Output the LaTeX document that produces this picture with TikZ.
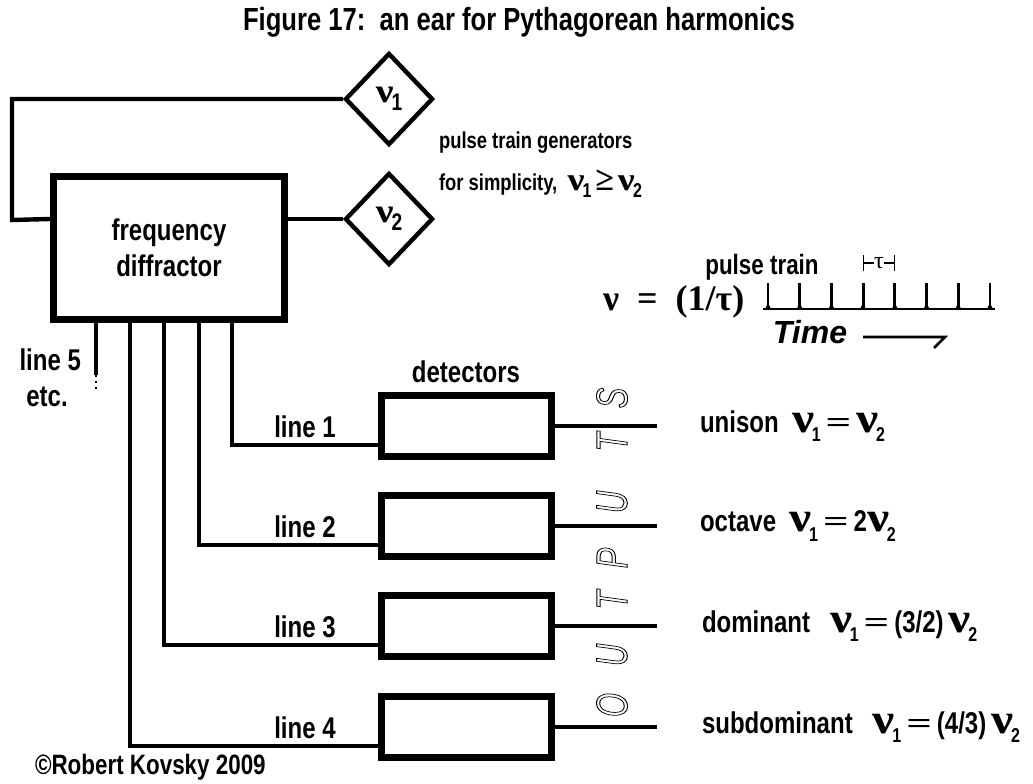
\documentclass[tikz,border=0pt]{standalone}
\usepackage{graphicx}
\usepackage{fontspec}
\setmainfont{Liberation Sans}
\newfontfamily\labelfont[FakeStretch=0.8]{Liberation Sans}
\newfontfamily\nufont{Liberation Serif}
\usetikzlibrary{shapes.geometric, calc, arrows.meta}

% frequency symbols
\newcommand{\nusym}{\scalebox{1.65}[1.4]{\nufont\bfseries ν}}
\newcommand{\nusub}[1]{\nusym\kern-0.08em\raisebox{-0.6ex}{\labelfont\bfseries\fontsize{10}{10}\selectfont #1}}
\newcommand{\eqsign}{\,\scalebox{1.5}[1]{\nufont\bfseries =}\,}
% hollow letters
\newcommand{\hollow}[1]{\special{pdf:literal direct 1 Tr 0.5 w}#1\special{pdf:literal direct 0 Tr}}

\begin{document}
\begin{tikzpicture}[x=0.5pt, y=-0.5pt,
    wire/.style={line width=2.2pt},
    thickbox/.style={draw, rectangle, line width=3.5pt, inner sep=0pt},
    detbox/.style={thickbox, minimum width=85pt, minimum height=30.5pt},
    gen/.style={draw, diamond, aspect=1, line width=2.2pt, inner sep=0pt,
        minimum width=44pt, minimum height=46pt},
    lbl/.style={font=\labelfont\bfseries\fontsize{15}{18}\selectfont},
    smalllbl/.style={font=\labelfont\bfseries\fontsize{11.5}{14}\selectfont},
    outletter/.style={rotate=90, inner sep=0pt, font=\itshape\fontsize{22}{22}\selectfont}]
    \useasboundingbox (0,0) rectangle (1033,783);

    \node[lbl, font=\labelfont\bfseries\fontsize{16}{18}\selectfont] (title) at (519,22)
        {Figure 17:\ \ an ear for Pythagorean harmonics};

    % diffractor and the two generators
    \node[thickbox, minimum width=115.5pt, minimum height=71.5pt, lbl, align=center] (diffractor)
        at (169,248) {frequency\\diffractor};
    \node[gen] (nu1) at (389,99) {\scalebox{1.2}{\nusub{1}}};
    \node[gen] (nu2) at (389,219) {\scalebox{1.2}{\nusub{2}}};
    \draw[wire] (nu1.west) -| (12,220) -- (diffractor.west |- nu2.west);
    \draw[wire] (diffractor.east |- nu2.west) -- (nu2.west);

    \node[smalllbl, anchor=west] (gentext) at (432,143) {pulse train generators};
    \node[smalllbl, anchor=west] (simptext) at (432,184)
        {for simplicity,\ \ \nusub{1}\,{\nufont\bfseries\fontsize{17}{17}\selectfont ≥}\,\nusub{2}};

    % pulse train
    \node[anchor=west, font=\nufont\bfseries\fontsize{18}{18}\selectfont] (freq) at (596,302)
        {ν\enspace=\enspace(1/τ)};
    \node[smalllbl, font=\labelfont\bfseries\fontsize{14}{14}\selectfont] (trainlabel) at (762,267) {pulse train};
    \draw[line width=1.2pt] (763,309) -- (995,309);
    \foreach \i in {0,...,7} {
        \draw[line width=1.4pt] ({768+31.7*\i},283) -- ({768+31.7*\i},309);
        \fill ({765+31.7*\i},309) -- ({768+31.7*\i},303) -- ({771+31.7*\i},309) -- cycle;
    }
    \draw[{Bar[width=8pt]}-{Bar[width=8pt]}, line width=0.6pt] (863,263) -- (895,263)
        node[midway, fill=white, inner sep=0.3pt, font=\nufont\fontsize{12}{12}\selectfont] (taulabel) {τ};
    \node[font=\bfseries\itshape\fontsize{16}{16}\selectfont] (timelabel) at (810,332) {Time};
    \draw[line width=1.3pt] (863,337) -- (945,337) -- (934,348);

    % line 5 and the rest
    \draw[wire] (diffractor.south -| 96,0) -- (96,375) coordinate (tail5);
    \coordinate (etcend) at (96,391);
    \draw[line width=1pt, dotted] (tail5) -- (etcend);
    \node[lbl, anchor=east] (line5) at (88,360) {line 5};
    \node[lbl] (etc) at (47,397) {etc.};

    % detectors on lines 1 to 4
    \node[lbl] (detlabel) at (466,372) {detectors};
    \foreach \k/\tx/\dy in {1/232/426, 2/199/526, 3/164/626, 4/130/727} {
        \node[detbox] (det\k) at (466.5,\dy) {};
        \draw[wire] (diffractor.south -| \tx,0) |- ($(det\k.west)+(0,19)$);
        \node[lbl] (linelbl\k) at (305,{\dy+1}) {line \k};
        \draw[wire] (det\k.east) -- ++(102,0);
    }

    \node[lbl, anchor=west] (res1) at (693,426) {unison\ \ \nusub{1}\eqsign\nusub{2}};
    \node[lbl, anchor=west] (res2) at (693,526) {octave\ \ \nusub{1}\eqsign 2\nusub{2}};
    \node[lbl, anchor=west] (res3) at (695,626) {dominant\ \ \ \nusub{1}\eqsign(3/2)\,\nusub{2}};
    \node[lbl, anchor=west] (res4) at (695,727) {subdominant\ \ \ \nusub{1}\eqsign(4/3)\,\nusub{2}};

    % OUTPUTS, reading upwards
    \foreach \ch/\yy in {O/705, U/655, T/600, P/558, U/502, T/442, S/398}
        \node[outletter] (out\yy) at (612,\yy) {\hollow{\scalebox{0.7}[1]{\ch}}};

    \node[lbl, font=\labelfont\bfseries\fontsize{14}{14}\selectfont, anchor=west] (credit) at (28,767)
        {©Robert Kovsky 2009};
\end{tikzpicture}
\end{document}
